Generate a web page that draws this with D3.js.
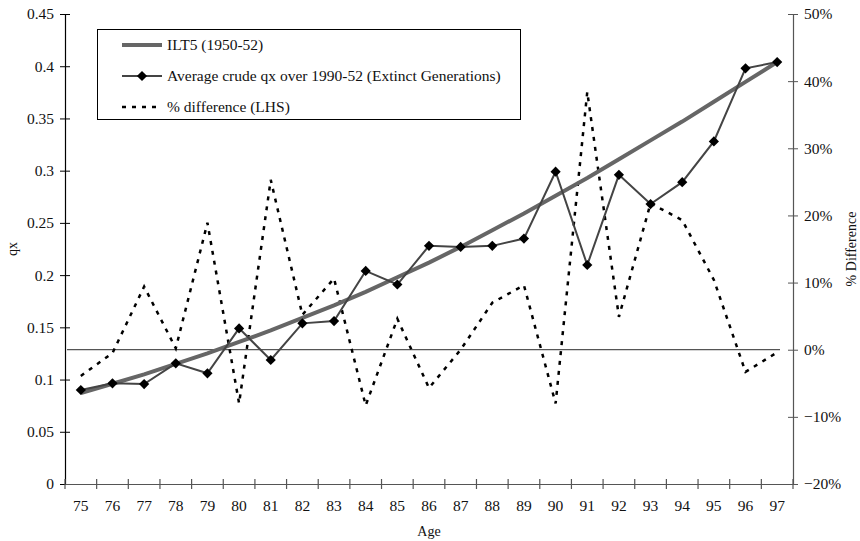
<!DOCTYPE html>
<html><head><meta charset="utf-8">
<script src="https://cdn.jsdelivr.net/npm/d3@7/dist/d3.min.js"></script>
<style>body{margin:0;background:#fff}svg{display:block}</style>
</head><body><svg id="c" width="860" height="541"></svg>
<script>
const ages = [75,76,77,78,79,80,81,82,83,84,85,86,87,88,89,90,91,92,93,94,95,96,97];
const ilt5 = [0.087,0.096,0.105,0.115,0.125,0.136,0.147,0.159,0.171,0.184,0.198,0.212,0.227,0.243,0.259,0.276,0.293,0.311,0.329,0.347,0.366,0.385,0.404];
const crudeQx = [0.090,0.0964,0.0957,0.1155,0.106,0.149,0.1187,0.1538,0.156,0.204,0.191,0.228,0.227,0.228,0.235,0.299,0.2097,0.296,0.268,0.289,0.328,0.398,0.404];
const pctDiff = [-0.039,-0.005,0.094,0.002,0.189,-0.080,0.253,0.052,0.106,-0.083,0.046,-0.057,0.000,0.070,0.096,-0.080,0.384,0.049,0.218,0.193,0.104,-0.033,-0.004];
const leftTicks = [0,0.05,0.1,0.15,0.2,0.25,0.3,0.35,0.4,0.45];
const rightTicks = [-0.2,-0.1,0,0.1,0.2,0.3,0.4,0.5];
const legendLabels = ["ILT5 (1950-52)","Average crude qx over 1990-52 (Extinct Generations)","% difference (LHS)"];

const FONT = "'Liberation Serif', 'Times New Roman', serif";
const svg = d3.select("#c");
const L=65, R=793, T=14, B=484;
const x = d3.scaleBand().domain(ages).range([L,R]);
const yL = d3.scaleLinear().domain([0,0.45]).range([B,T]);
const yR = d3.scaleLinear().domain([-0.2,0.5]).range([B,T]);
const cx = a => x(a)+x.bandwidth()/2;
const fs = 15.5;

// zero line of secondary axis
svg.append("line").attr("x1",L+2).attr("x2",780).attr("y1",yR(0)).attr("y2",yR(0)).attr("stroke","#555").attr("stroke-width",1.2);

// left axis
const gL = svg.append("g").attr("transform",`translate(${L},0)`)
  .call(d3.axisLeft(yL).tickValues(leftTicks).tickFormat(d=>String(+d.toFixed(2))).tickSizeInner(5).tickSizeOuter(0).tickPadding(6));
gL.select(".domain").attr("stroke","#000").attr("stroke-width",1.2);
gL.selectAll(".tick line").attr("x2",5).attr("x1",-5).attr("stroke","#000");
gL.selectAll("text").attr("x",-11);

// right axis
const gR = svg.append("g").attr("transform",`translate(${R},0)`)
  .call(d3.axisRight(yR).tickValues(rightTicks).tickFormat(d3.format(".0%")).tickSizeInner(5).tickSizeOuter(0).tickPadding(6));
gR.select(".domain").attr("stroke","#555").attr("stroke-width",1.2);
gR.selectAll(".tick line").attr("x1",-5).attr("x2",5).attr("stroke","#555");
gR.selectAll("text").attr("x",11);

// bottom axis
const gB = svg.append("g").attr("transform",`translate(0,${B})`)
  .call(d3.axisBottom(x).tickSize(0).tickPadding(16));
gB.select(".domain").attr("stroke","#555").attr("stroke-width",1.2);
const bounds = ages.map(a=>x(a)).concat([R]);
gB.selectAll(".bt").data(bounds).enter().append("line").attr("class","bt")
  .attr("x1",d=>d).attr("x2",d=>d).attr("y1",-5).attr("y2",5).attr("stroke","#555").attr("stroke-width",1.2);

[gL,gR,gB].forEach(g=>g.attr("font-family",FONT).attr("font-size",fs));
svg.selectAll(".tick text").attr("fill","#111").style("font-family",FONT).style("font-size",fs+"px");

// axis titles
svg.append("text").attr("transform",`translate(17,${(T+B)/2}) rotate(-90)`).attr("text-anchor","middle").text("qx");
svg.append("text").attr("x",(L+R)/2).attr("y",536).attr("text-anchor","middle").text("Age");
svg.append("text").attr("transform",`translate(856,${(T+B)/2}) rotate(-90)`).attr("text-anchor","middle").text("% Difference");

// % difference dashed
svg.append("path").datum(pctDiff).attr("fill","none").attr("stroke","#000").attr("stroke-width",2.5).attr("stroke-dasharray","4,6")
  .attr("d",d3.line().x((d,i)=>cx(ages[i])).y(d=>yR(d)));

// ILT5 thick
svg.append("path").datum(ilt5).attr("fill","none").attr("stroke","#666").attr("stroke-width",4)
  .attr("d",d3.line().x((d,i)=>cx(ages[i])).y(d=>yL(d)));

// crude qx
svg.append("path").datum(crudeQx).attr("fill","none").attr("stroke","#444").attr("stroke-width",2)
  .attr("d",d3.line().x((d,i)=>cx(ages[i])).y(d=>yL(d)));
const diamond = d3.symbol().type(d3.symbolSquare).size(52);
svg.selectAll(".mk").data(crudeQx).enter().append("path").attr("class","mk")
  .attr("transform",(d,i)=>`translate(${cx(ages[i])},${yL(d)}) rotate(45)`).attr("d",diamond).attr("fill","#000");

// legend
const lg = svg.append("g");
lg.append("rect").attr("x",97.5).attr("y",29.5).attr("width",423).attr("height",90).attr("fill","#fff").attr("stroke","#000").attr("stroke-width",1);
const rows=[45,76,107];
lg.append("line").attr("x1",122).attr("x2",162).attr("y1",rows[0]).attr("y2",rows[0]).attr("stroke","#666").attr("stroke-width",4);
lg.append("line").attr("x1",122).attr("x2",162).attr("y1",rows[1]).attr("y2",rows[1]).attr("stroke","#444").attr("stroke-width",2);
lg.append("path").attr("transform",`translate(142,${rows[1]}) rotate(45)`).attr("d",diamond).attr("fill","#000");
lg.append("line").attr("x1",122).attr("x2",162).attr("y1",rows[2]).attr("y2",rows[2]).attr("stroke","#000").attr("stroke-width",2.5).attr("stroke-dasharray","4,6");
lg.selectAll(".lt").data(legendLabels).enter().append("text").attr("class","lt")
  .attr("x",167).attr("y",(d,i)=>rows[i]+5).style("font-size",fs+"px").text(d=>d);

svg.selectAll("text").style("font-family",FONT).attr("fill","#111");
svg.selectAll("text:not(.tick text):not(.lt)").style("font-size","14px");
</script></body></html>
